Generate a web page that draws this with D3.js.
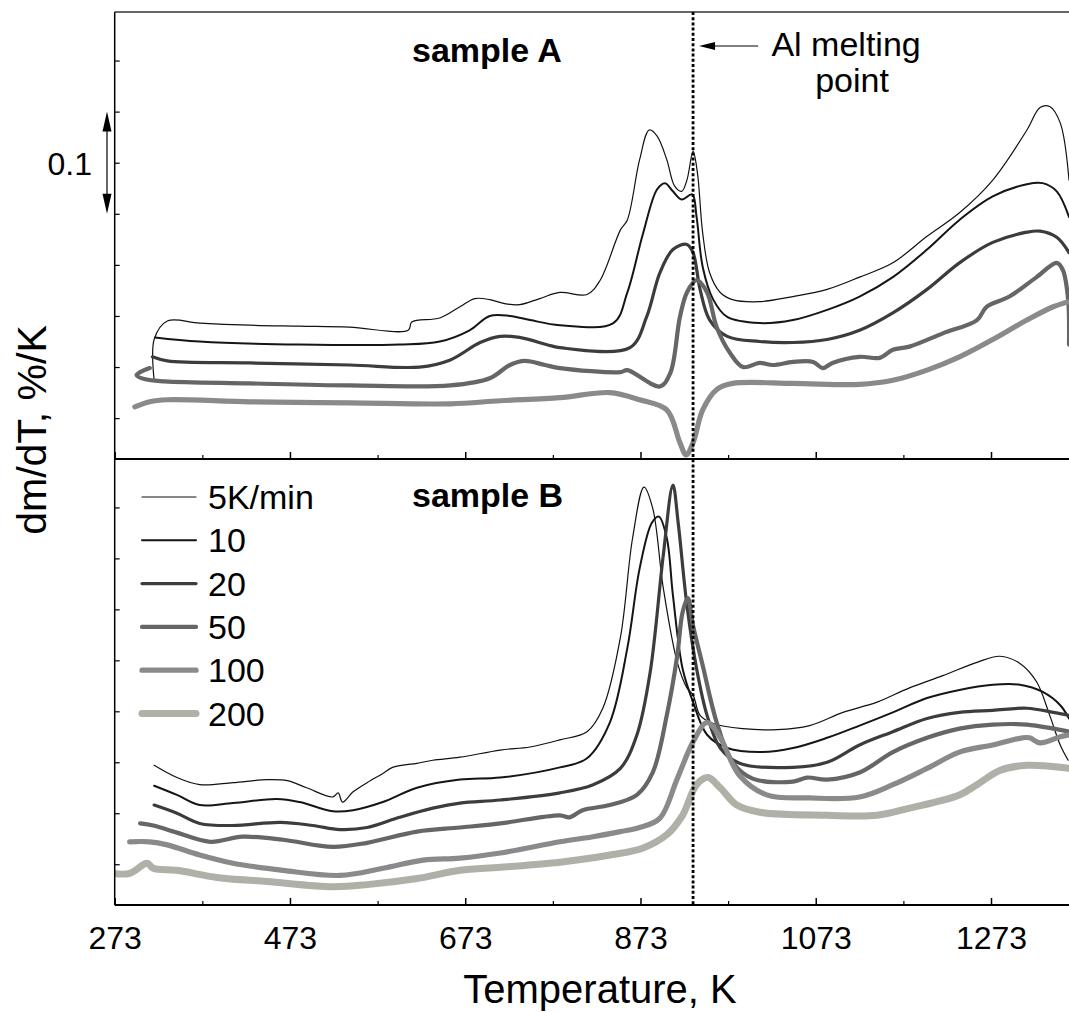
<!DOCTYPE html>
<html>
<head>
<meta charset="utf-8">
<script src="https://cdn.jsdelivr.net/npm/d3@7"></script>
<style>
body { margin: 0; background: #fff; }
text { font-family: Arial, "Liberation Sans", sans-serif; fill: #000; }
</style>
</head>
<body>
<div id="chart"></div>
<script>
// heating rates (legend) and x tick labels
var rates = ["5K/min", "10", "20", "50", "100", "200"];
var xTickLabels = [273, 473, 673, 873, 1073, 1273];
var xMinorTicks = [373, 573, 773, 973, 1173];
var meltT = 933;   // Al melting point, K

// sample A curves: [T (K), dm/dT (%/K, offset)]
var sampleA5 = [[318,0.077],[318,0.117],[333,0.135],[370,0.133],[427,0.131],[484,0.130],[541,0.129],[608,0.126],[612,0.134],[644,0.138],[667,0.149],[684,0.157],[701,0.156],[718,0.152],[735,0.151],[758,0.157],[781,0.163],[812,0.161],[827,0.175],[850,0.224],[858,0.234],[872,0.293],[883,0.322],[892,0.316],[903,0.293],[912,0.267],[920,0.262],[926,0.273],[933,0.301],[938,0.280],[944,0.221],[952,0.182],[964,0.163],[978,0.156],[1009,0.154],[1047,0.159],[1086,0.166],[1123,0.178],[1161,0.192],[1200,0.218],[1237,0.241],[1275,0.273],[1314,0.322],[1329,0.344],[1340,0.345],[1352,0.329],[1362,0.273]];
var sampleA10 = [[319,0.119],[370,0.115],[484,0.112],[598,0.112],[644,0.115],[678,0.126],[701,0.140],[724,0.140],[747,0.136],[781,0.131],[842,0.133],[858,0.163],[876,0.221],[892,0.264],[901,0.270],[910,0.262],[920,0.254],[932,0.259],[937,0.237],[944,0.188],[956,0.156],[972,0.139],[1009,0.133],[1047,0.136],[1086,0.146],[1123,0.159],[1161,0.178],[1200,0.205],[1237,0.234],[1275,0.257],[1314,0.269],[1332,0.270],[1348,0.262],[1362,0.237]];
var sampleA20 = [[316,0.100],[333,0.096],[427,0.094],[541,0.092],[621,0.090],[656,0.097],[690,0.114],[713,0.120],[735,0.119],[770,0.111],[781,0.109],[861,0.109],[880,0.139],[895,0.182],[910,0.205],[926,0.210],[933,0.202],[941,0.166],[952,0.136],[972,0.120],[1009,0.115],[1047,0.114],[1086,0.117],[1123,0.126],[1161,0.143],[1200,0.166],[1237,0.192],[1275,0.212],[1314,0.222],[1329,0.223],[1348,0.217],[1362,0.202]];
var sampleA50 = [[313,0.089],[302,0.085],[298,0.082],[308,0.078],[330,0.076],[427,0.074],[541,0.072],[656,0.072],[701,0.079],[724,0.092],[741,0.096],[764,0.092],[781,0.089],[850,0.085],[858,0.087],[895,0.071],[907,0.084],[918,0.139],[926,0.163],[937,0.175],[949,0.163],[960,0.129],[975,0.104],[990,0.090],[1009,0.094],[1024,0.092],[1047,0.095],[1070,0.095],[1081,0.089],[1092,0.094],[1123,0.100],[1146,0.099],[1161,0.107],[1180,0.110],[1218,0.123],[1257,0.136],[1268,0.149],[1294,0.159],[1325,0.178],[1348,0.192],[1355,0.185],[1361,0.156],[1362,0.112]];
var sampleA100 = [[296,0.051],[313,0.056],[333,0.058],[427,0.056],[541,0.055],[656,0.054],[713,0.057],[781,0.060],[838,0.065],[872,0.058],[903,0.048],[918,0.016],[925,0.004],[933,0.016],[944,0.048],[960,0.068],[978,0.074],[1047,0.074],[1123,0.073],[1161,0.077],[1200,0.087],[1237,0.100],[1275,0.117],[1314,0.136],[1344,0.149],[1362,0.154]];

// sample B curves
var sampleB5 = [[318,0.137],[344,0.125],[370,0.118],[408,0.120],[447,0.123],[470,0.122],[492,0.115],[522,0.106],[528,0.110],[533,0.101],[545,0.111],[561,0.120],[579,0.129],[590,0.135],[618,0.139],[636,0.142],[667,0.145],[713,0.152],[747,0.155],[781,0.162],[812,0.170],[830,0.193],[850,0.262],[864,0.360],[877,0.410],[887,0.389],[899,0.311],[915,0.238],[926,0.213],[933,0.206],[941,0.186],[956,0.178],[990,0.173],[1029,0.172],[1066,0.176],[1104,0.189],[1143,0.199],[1180,0.213],[1218,0.225],[1257,0.238],[1283,0.244],[1306,0.237],[1325,0.219],[1340,0.186],[1352,0.157],[1361,0.142]];
var sampleB10 = [[318,0.117],[344,0.108],[370,0.098],[408,0.100],[458,0.104],[484,0.101],[522,0.092],[545,0.093],[579,0.101],[618,0.115],[667,0.123],[713,0.125],[781,0.135],[812,0.144],[838,0.179],[858,0.252],[872,0.330],[886,0.375],[894,0.381],[903,0.360],[910,0.304],[921,0.232],[933,0.199],[949,0.167],[972,0.154],[1009,0.150],[1047,0.154],[1086,0.164],[1123,0.176],[1161,0.189],[1200,0.203],[1237,0.211],[1275,0.216],[1306,0.216],[1332,0.209],[1352,0.196],[1362,0.183]];
var sampleB20 = [[318,0.098],[344,0.090],[370,0.080],[408,0.078],[462,0.081],[499,0.078],[530,0.074],[561,0.076],[598,0.086],[636,0.095],[667,0.100],[713,0.103],[781,0.110],[819,0.118],[850,0.134],[869,0.167],[884,0.228],[899,0.343],[910,0.412],[916,0.375],[926,0.294],[937,0.232],[949,0.186],[964,0.154],[986,0.139],[1047,0.135],[1086,0.140],[1123,0.157],[1161,0.170],[1200,0.183],[1237,0.189],[1275,0.191],[1314,0.193],[1344,0.189],[1362,0.186]];
var sampleB50 = [[302,0.080],[317,0.078],[344,0.071],[382,0.062],[419,0.067],[465,0.064],[522,0.057],[561,0.061],[618,0.072],[667,0.076],[713,0.080],[781,0.088],[792,0.086],[807,0.093],[838,0.098],[869,0.108],[887,0.130],[903,0.186],[915,0.245],[921,0.287],[927,0.301],[933,0.274],[944,0.235],[960,0.179],[978,0.140],[1001,0.124],[1047,0.121],[1063,0.125],[1086,0.123],[1123,0.130],[1161,0.150],[1200,0.164],[1237,0.173],[1275,0.177],[1314,0.177],[1344,0.173],[1362,0.170]];
var sampleB100 = [[290,0.062],[313,0.062],[333,0.059],[370,0.049],[408,0.041],[465,0.034],[530,0.029],[579,0.036],[625,0.044],[667,0.046],[713,0.051],[781,0.062],[819,0.067],[850,0.072],[872,0.076],[895,0.085],[915,0.124],[933,0.160],[949,0.179],[964,0.164],[986,0.127],[1017,0.108],[1066,0.105],[1123,0.106],[1161,0.118],[1200,0.134],[1237,0.150],[1275,0.157],[1309,0.164],[1317,0.164],[1329,0.159],[1352,0.165],[1362,0.167]];
var sampleB200 = [[271,0.031],[290,0.031],[310,0.041],[317,0.036],[344,0.034],[390,0.027],[447,0.023],[522,0.018],[561,0.020],[618,0.026],[667,0.034],[713,0.037],[781,0.042],[838,0.049],[876,0.056],[903,0.069],[921,0.088],[937,0.118],[950,0.125],[964,0.115],[983,0.098],[1009,0.091],[1086,0.088],[1143,0.088],[1180,0.095],[1237,0.108],[1257,0.118],[1283,0.132],[1314,0.137],[1362,0.134]];

var seriesA = [sampleA5, sampleA10, sampleA20, sampleA50, sampleA100];
var seriesB = [sampleB5, sampleB10, sampleB20, sampleB50, sampleB100, sampleB200];

// styles per rate
var lineColor = ["#111", "#151515", "#3c3c3c", "#666", "#8a8a8a", "#b0b0a8"];
var lineWidth = [1.2, 2, 3.2, 4.2, 5.2, 7];

var W = 1069, H = 1012;
var left = 114.7, right = 1069;
var panels = [{top: 12, bottom: 459}, {top: 459, bottom: 905}];

var svg = d3.select("#chart").append("svg")
    .attr("width", W)
    .attr("height", H);

var x = d3.scaleLinear()
    .domain([273, 1362])
    .range([left, right]);

var yA = d3.scaleLinear().domain([0, 0.4375]).range([panels[0].bottom, panels[0].top]);
var yB = d3.scaleLinear().domain([0, 0.4375]).range([panels[1].bottom, panels[1].top]);

var yTicks = d3.range(8).map(function(k) { return 0.04 + 0.05 * k; });

// clip paths
panels.forEach(function(p, i) {
  svg.append("clipPath").attr("id", "clip" + i)
    .append("rect")
    .attr("x", left).attr("y", p.top)
    .attr("width", right - left).attr("height", p.bottom - p.top);
});

function drawPanel(series, y, idx) {
  var line = d3.line()
      .x(function(d) { return x(d[0]); })
      .y(function(d) { return y(d[1]); })
      .curve(d3.curveCatmullRom.alpha(0.5));

  var g = svg.append("g").attr("clip-path", "url(#clip" + idx + ")");
  g.selectAll("path")
    .data(series)
    .enter().append("path")
    .attr("d", line)
    .attr("fill", "none")
    .attr("stroke", function(d, i) { return lineColor[i]; })
    .attr("stroke-width", function(d, i) { return lineWidth[i]; })
    .attr("stroke-linejoin", "round")
    .attr("stroke-linecap", "round");

  // y ticks, pointing inward
  var yAx = svg.append("g")
    .attr("transform", "translate(" + left + ",0)")
    .call(d3.axisLeft(y).tickValues(yTicks).tickSizeInner(-5).tickSizeOuter(0).tickFormat(""));
  yAx.select(".domain").remove();
  yAx.selectAll("line").attr("stroke", "#000").attr("stroke-width", 1.2);

  // x ticks on the bottom edge of the panel
  var yb = y.range()[0];
  var major = svg.append("g")
    .attr("transform", "translate(0," + yb + ")")
    .call(d3.axisBottom(x).tickValues(xTickLabels).tickSizeInner(-7).tickSizeOuter(0)
      .tickPadding(21).tickFormat(idx == 1 ? d3.format("d") : ""));
  major.select(".domain").remove();
  major.selectAll("line").attr("stroke", "#000").attr("stroke-width", 1.5);
  major.selectAll("text").attr("font-size", 32).style("font-family", "Arial, 'Liberation Sans', sans-serif");

  var minor = svg.append("g")
    .attr("transform", "translate(0," + yb + ")")
    .call(d3.axisBottom(x).tickValues(xMinorTicks).tickSizeInner(-4).tickSizeOuter(0).tickFormat(""));
  minor.select(".domain").remove();
  minor.selectAll("line").attr("stroke", "#000").attr("stroke-width", 1.2);
}

drawPanel(seriesA, yA, 0);
drawPanel(seriesB, yB, 1);

// frame
svg.append("line").attr("x1", left).attr("x2", right).attr("y1", 12).attr("y2", 12)
  .attr("stroke", "#333").attr("stroke-width", 1.5);
svg.append("line").attr("x1", left).attr("x2", right).attr("y1", 459).attr("y2", 459)
  .attr("stroke", "#000").attr("stroke-width", 2);
svg.append("line").attr("x1", left).attr("x2", right).attr("y1", 905).attr("y2", 905)
  .attr("stroke", "#000").attr("stroke-width", 2);
svg.append("line").attr("x1", left).attr("x2", left).attr("y1", 12).attr("y2", 905)
  .attr("stroke", "#000").attr("stroke-width", 1.5);

// Al melting point dotted line
var xm = x(meltT);
svg.append("line")
  .attr("x1", xm).attr("x2", xm)
  .attr("y1", 12).attr("y2", 905)
  .attr("stroke", "#000")
  .attr("stroke-width", 2.8)
  .attr("stroke-dasharray", "3,2.2");

// annotation arrow + text
svg.append("line")
  .attr("x1", xm + 65).attr("x2", xm + 18)
  .attr("y1", 46).attr("y2", 46)
  .attr("stroke", "#000").attr("stroke-width", 1);
svg.append("path")
  .attr("d", "M" + (xm + 6) + ",46 L" + (xm + 22) + ",42 L" + (xm + 22) + ",50 Z")
  .attr("fill", "#000");
svg.append("text").attr("x", xm + 153).attr("y", 56)
  .attr("text-anchor", "middle").attr("font-size", 34).text("Al melting");
svg.append("text").attr("x", xm + 159).attr("y", 92)
  .attr("text-anchor", "middle").attr("font-size", 34).text("point");

// panel titles
svg.append("text").attr("x", 412).attr("y", 62)
  .attr("font-size", 34).attr("font-weight", "bold").text("sample A");
svg.append("text").attr("x", 412).attr("y", 507)
  .attr("font-size", 34).attr("font-weight", "bold").text("sample B");

// 0.1 scale bar
var barX = 107;
var yTop = yA(0.34), yBot = yA(0.24);
svg.append("line").attr("x1", barX).attr("x2", barX)
  .attr("y1", yTop + 12).attr("y2", yBot - 12)
  .attr("stroke", "#000").attr("stroke-width", 1.2);
svg.append("path")
  .attr("d", "M" + barX + "," + yTop + " L" + (barX - 4.5) + "," + (yTop + 20) + " L" + (barX + 4.5) + "," + (yTop + 20) + " Z")
  .attr("fill", "#000");
svg.append("path")
  .attr("d", "M" + barX + "," + yBot + " L" + (barX - 4.5) + "," + (yBot - 20) + " L" + (barX + 4.5) + "," + (yBot - 20) + " Z")
  .attr("fill", "#000");
svg.append("text").attr("x", 92).attr("y", yA(0.29) + 12)
  .attr("text-anchor", "end").attr("font-size", 32).text("0.1");

// legend
var legend = svg.append("g");
rates.forEach(function(r, i) {
  var ly = 497 + i * 43.3;
  legend.append("line")
    .attr("x1", 142).attr("x2", 196)
    .attr("y1", ly).attr("y2", ly)
    .attr("stroke", lineColor[i])
    .attr("stroke-width", lineWidth[i])
    .attr("stroke-linecap", "round");
  legend.append("text")
    .attr("x", 208).attr("y", ly + 12)
    .attr("font-size", 34)
    .text(r);
});

// axis titles
svg.append("text")
  .attr("x", 600).attr("y", 1003)
  .attr("text-anchor", "middle")
  .attr("font-size", 40)
  .text("Temperature, K");

svg.append("text")
  .attr("transform", "translate(46,430) rotate(-90)")
  .attr("text-anchor", "middle")
  .attr("font-size", 41)
  .text("dm/dT, %/K");
</script>
</body>
</html>
